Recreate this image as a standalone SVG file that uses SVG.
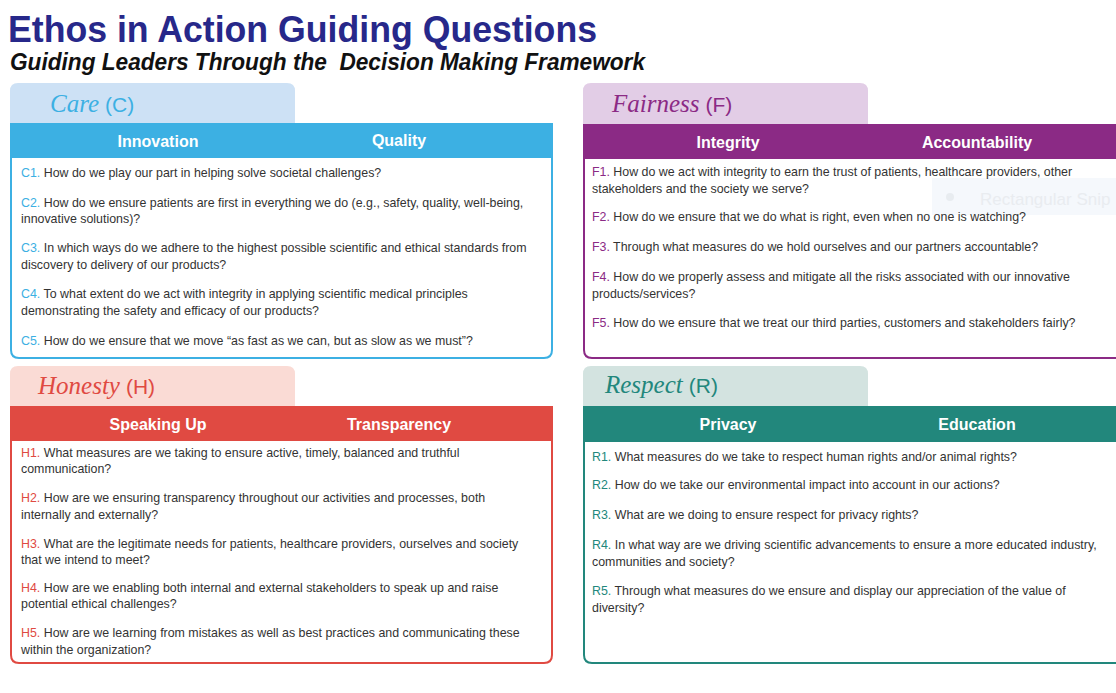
<svg xmlns="http://www.w3.org/2000/svg" width="1116" height="693" viewBox="0 0 1116 693">
<style>
.title{font-family:"Liberation Sans",Arial,sans-serif;font-weight:bold;fill:#27288a;font-size:37px}
.sub{font-family:"Liberation Sans",Arial,sans-serif;font-weight:bold;font-style:italic;fill:#111;font-size:23px;white-space:pre}
.script{font-family:"Liberation Serif",serif;font-style:italic;font-size:25px}
.paren{font-family:"Liberation Sans",sans-serif;font-size:21px}
.hdr{font-family:"Liberation Sans",Arial,sans-serif;font-weight:bold;fill:#fff;font-size:16px;text-anchor:middle}
.q{font-family:"Liberation Sans",Arial,sans-serif;fill:#333;font-size:12.4px}
.body{fill:#fff;stroke-width:2}
.c{fill:#3cb0e3}.f{fill:#8b2a85}.h{fill:#e04a42}.r{fill:#22877c}
</style>
<rect width="1116" height="693" fill="#fff"/>
<g id="title">
<text class="title" x="8" y="42" textLength="589" lengthAdjust="spacingAndGlyphs">Ethos in Action Guiding Questions</text>
<text class="sub" x="10" y="70" textLength="635" lengthAdjust="spacingAndGlyphs" xml:space="preserve">Guiding Leaders Through the  Decision Making Framework</text>
</g>
<g id="care">
<path d="M10,123 V91 Q10,83 18,83 H287 Q295,83 295,91 V123 Z" fill="#cde1f5"/>
<text x="50" y="112" fill="#3cb0e3"><tspan class="script">Care</tspan><tspan class="paren" dx="6">(C)</tspan></text>
<path class="body" d="M11,123 V350 Q11,358 19,358 H544 Q552,358 552,350 V123" stroke="#3cb0e3"/>
<rect x="10" y="123" width="543" height="35" fill="#3cb0e3"/>
<text class="hdr" x="158" y="147">Innovation</text>
<text class="hdr" x="399" y="146">Quality</text>
<text class="q" x="21" y="177"><tspan class="c">C1.</tspan> How do we play our part in helping solve societal challenges?</text>
<text class="q" x="21" y="207"><tspan class="c">C2.</tspan> How do we ensure patients are first in everything we do (e.g., safety, quality, well-being,</text>
<text class="q" x="21" y="223">innovative solutions)?</text>
<text class="q" x="21" y="252"><tspan class="c">C3.</tspan> In which ways do we adhere to the highest possible scientific and ethical standards from</text>
<text class="q" x="21" y="269">discovery to delivery of our products?</text>
<text class="q" x="21" y="298"><tspan class="c">C4.</tspan> To what extent do we act with integrity in applying scientific medical principles</text>
<text class="q" x="21" y="315">demonstrating the safety and efficacy of our products?</text>
<text class="q" x="21" y="345"><tspan class="c">C5.</tspan> How do we ensure that we move “as fast as we can, but as slow as we must”?</text>
</g>
<g id="fairness">
<path d="M583,124 V91 Q583,83 591,83 H860 Q868,83 868,91 V124 Z" fill="#e2cde6"/>
<text x="612" y="112" fill="#8b2a85"><tspan class="script">Fairness</tspan><tspan class="paren" dx="6">(F)</tspan></text>
<path class="body" d="M584,124 V350 Q584,358 592,358 H1130" stroke="#8b2a85"/>
<rect x="583" y="124" width="540" height="35" fill="#8b2a85"/>
<text class="hdr" x="728" y="148">Integrity</text>
<text class="hdr" x="977" y="148">Accountability</text>
<rect x="932" y="178" width="190" height="37" fill="#f5f8fc"/>
<circle cx="950" cy="197" r="4" fill="#e8ecf0"/>
<text x="980" y="205" font-family="Liberation Sans,Arial,sans-serif" font-size="17" fill="#e9ecf0">Rectangular Snip</text>
<text class="q" x="592" y="176"><tspan class="f">F1.</tspan> How do we act with integrity to earn the trust of patients, healthcare providers, other</text>
<text class="q" x="592" y="193">stakeholders and the society we serve?</text>
<text class="q" x="592" y="221"><tspan class="f">F2.</tspan> How do we ensure that we do what is right, even when no one is watching?</text>
<text class="q" x="592" y="251"><tspan class="f">F3.</tspan> Through what measures do we hold ourselves and our partners accountable?</text>
<text class="q" x="592" y="281"><tspan class="f">F4.</tspan> How do we properly assess and mitigate all the risks associated with our innovative</text>
<text class="q" x="592" y="298">products/services?</text>
<text class="q" x="592" y="327"><tspan class="f">F5.</tspan> How do we ensure that we treat our third parties, customers and stakeholders fairly?</text>
</g>
<g id="honesty">
<path d="M10,406 V374 Q10,366 18,366 H287 Q295,366 295,374 V406 Z" fill="#fadbd5"/>
<text x="38" y="394" fill="#e04a42"><tspan class="script">Honesty</tspan><tspan class="paren" dx="6">(H)</tspan></text>
<path class="body" d="M11,406 V655 Q11,663 19,663 H544 Q552,663 552,655 V406" stroke="#e04a42"/>
<rect x="10" y="406" width="543" height="35" fill="#e04a42"/>
<text class="hdr" x="158" y="430">Speaking Up</text>
<text class="hdr" x="399" y="430">Transparency</text>
<text class="q" x="21" y="457"><tspan class="h">H1.</tspan> What measures are we taking to ensure active, timely, balanced and truthful</text>
<text class="q" x="21" y="473">communication?</text>
<text class="q" x="21" y="502"><tspan class="h">H2.</tspan> How are we ensuring transparency throughout our activities and processes, both</text>
<text class="q" x="21" y="519">internally and externally?</text>
<text class="q" x="21" y="548"><tspan class="h">H3.</tspan> What are the legitimate needs for patients, healthcare providers, ourselves and society</text>
<text class="q" x="21" y="564">that we intend to meet?</text>
<text class="q" x="21" y="592"><tspan class="h">H4.</tspan> How are we enabling both internal and external stakeholders to speak up and raise</text>
<text class="q" x="21" y="608">potential ethical challenges?</text>
<text class="q" x="21" y="637"><tspan class="h">H5.</tspan> How are we learning from mistakes as well as best practices and communicating these</text>
<text class="q" x="21" y="654">within the organization?</text>
</g>
<g id="respect">
<path d="M583,406 V374 Q583,366 591,366 H860 Q868,366 868,374 V406 Z" fill="#d3e3e0"/>
<text x="605" y="393" fill="#22877c"><tspan class="script">Respect</tspan><tspan class="paren" dx="6">(R)</tspan></text>
<path class="body" d="M584,406 V655 Q584,663 592,663 H1130" stroke="#22877c"/>
<rect x="583" y="406" width="540" height="36" fill="#22877c"/>
<text class="hdr" x="728" y="430">Privacy</text>
<text class="hdr" x="977" y="430">Education</text>
<text class="q" x="592" y="461"><tspan class="r">R1.</tspan> What measures do we take to respect human rights and/or animal rights?</text>
<text class="q" x="592" y="489"><tspan class="r">R2.</tspan> How do we take our environmental impact into account in our actions?</text>
<text class="q" x="592" y="519"><tspan class="r">R3.</tspan> What are we doing to ensure respect for privacy rights?</text>
<text class="q" x="592" y="549"><tspan class="r">R4.</tspan> In what way are we driving scientific advancements to ensure a more educated industry,</text>
<text class="q" x="592" y="566">communities and society?</text>
<text class="q" x="592" y="595"><tspan class="r">R5.</tspan> Through what measures do we ensure and display our appreciation of the value of</text>
<text class="q" x="592" y="612">diversity?</text>
</g>
</svg>
